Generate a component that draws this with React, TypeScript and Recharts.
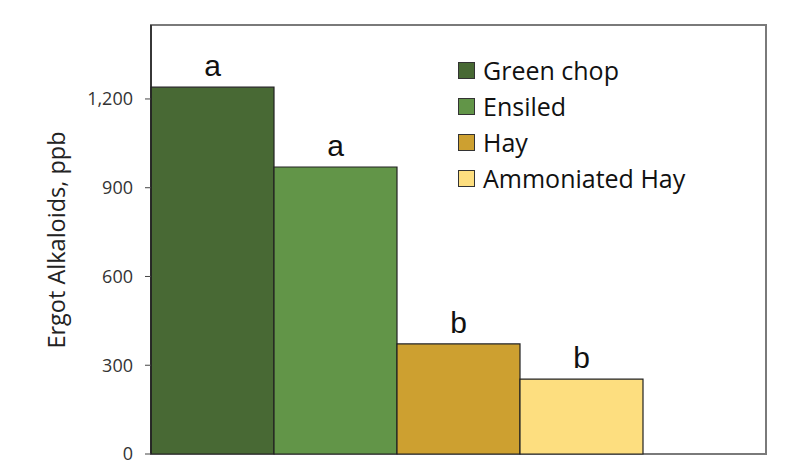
import { BarChart, Bar, XAxis, YAxis, Legend, LabelList, Cell, ReferenceArea } from 'recharts';

// Datos
const categorias = ['Green chop', 'Ensiled', 'Hay', 'Ammoniated Hay', ''];
const alcaloides = [1240, 970, 372, 253, null];
const letras = ['a', 'a', 'b', 'b', ''];
const ticksY = [0, 300, 600, 900, 1200];

const COLORES = ['#486934', '#629548', '#CDA030', '#FDDE7F', '#ffffff'];
const FUENTE = '"Open Sans", sans-serif';

const datos = categorias.map((name, i) => ({ name, valor: alcaloides[i], letra: letras[i] }));

function LeyendaCustom() {
  return (
    <div style={{ fontFamily: FUENTE }}>
      {categorias.slice(0, 4).map((c, i) => (
        <div key={c} style={{ display: 'flex', alignItems: 'center', height: 36 }}>
          <span
            style={{
              width: 15,
              height: 15,
              background: COLORES[i],
              border: '1px solid #333',
              marginRight: 8,
              display: 'inline-block',
            }}
          />
          <span style={{ fontSize: 25, color: '#111' }}>{c}</span>
        </div>
      ))}
    </div>
  );
}

function EtiquetaY() {
  return (
    <text
      x={56}
      y={240}
      transform="rotate(-90 56 240)"
      textAnchor="middle"
      dominantBaseline="central"
      fontFamily={FUENTE}
      fontSize={23.5}
      fill="#222"
    >
      Ergot Alkaloids, ppb
    </text>
  );
}

export default function App() {
  return (
    <div style={{ position: 'absolute', left: 0, top: 0, width: 800, height: 475, background: '#fff' }}>
      <BarChart
        width={800}
        height={475}
        data={datos}
        margin={{ top: 25, right: 34, left: 0, bottom: 21 }}
        barCategoryGap={0}
      >
        <ReferenceArea y1={0} y2={1450} fill="none" stroke="#7a7a7a" strokeWidth={2} />
        <XAxis dataKey="name" hide />
        <YAxis
          width={151}
          domain={[0, 1450]}
          ticks={ticksY}
          tickFormatter={(v: number) => v.toLocaleString('en-US')}
          tick={{ fontFamily: FUENTE, fontSize: 18, fill: '#333' }}
          tickSize={6}
          tickMargin={12}
          axisLine={{ stroke: '#222', strokeWidth: 1.5 }}
          tickLine={{ stroke: '#444' }}
          label={<EtiquetaY />}
        />
        <Legend
          layout="vertical"
          verticalAlign="middle"
          align="center"
          content={<LeyendaCustom />}
          wrapperStyle={{ left: 458, top: 52, width: 320 }}
        />
        <Bar dataKey="valor" stroke="#222" strokeWidth={1.2} isAnimationActive={false}>
          {datos.map((d, i) => (
            <Cell key={`cell-${i}`} fill={COLORES[i]} />
          ))}
          <LabelList
            dataKey="letra"
            position="top"
            offset={11}
            style={{ fontFamily: '"Liberation Sans", Arial, sans-serif', fontSize: 30, fill: '#111' }}
          />
        </Bar>
      </BarChart>
    </div>
  );
}
